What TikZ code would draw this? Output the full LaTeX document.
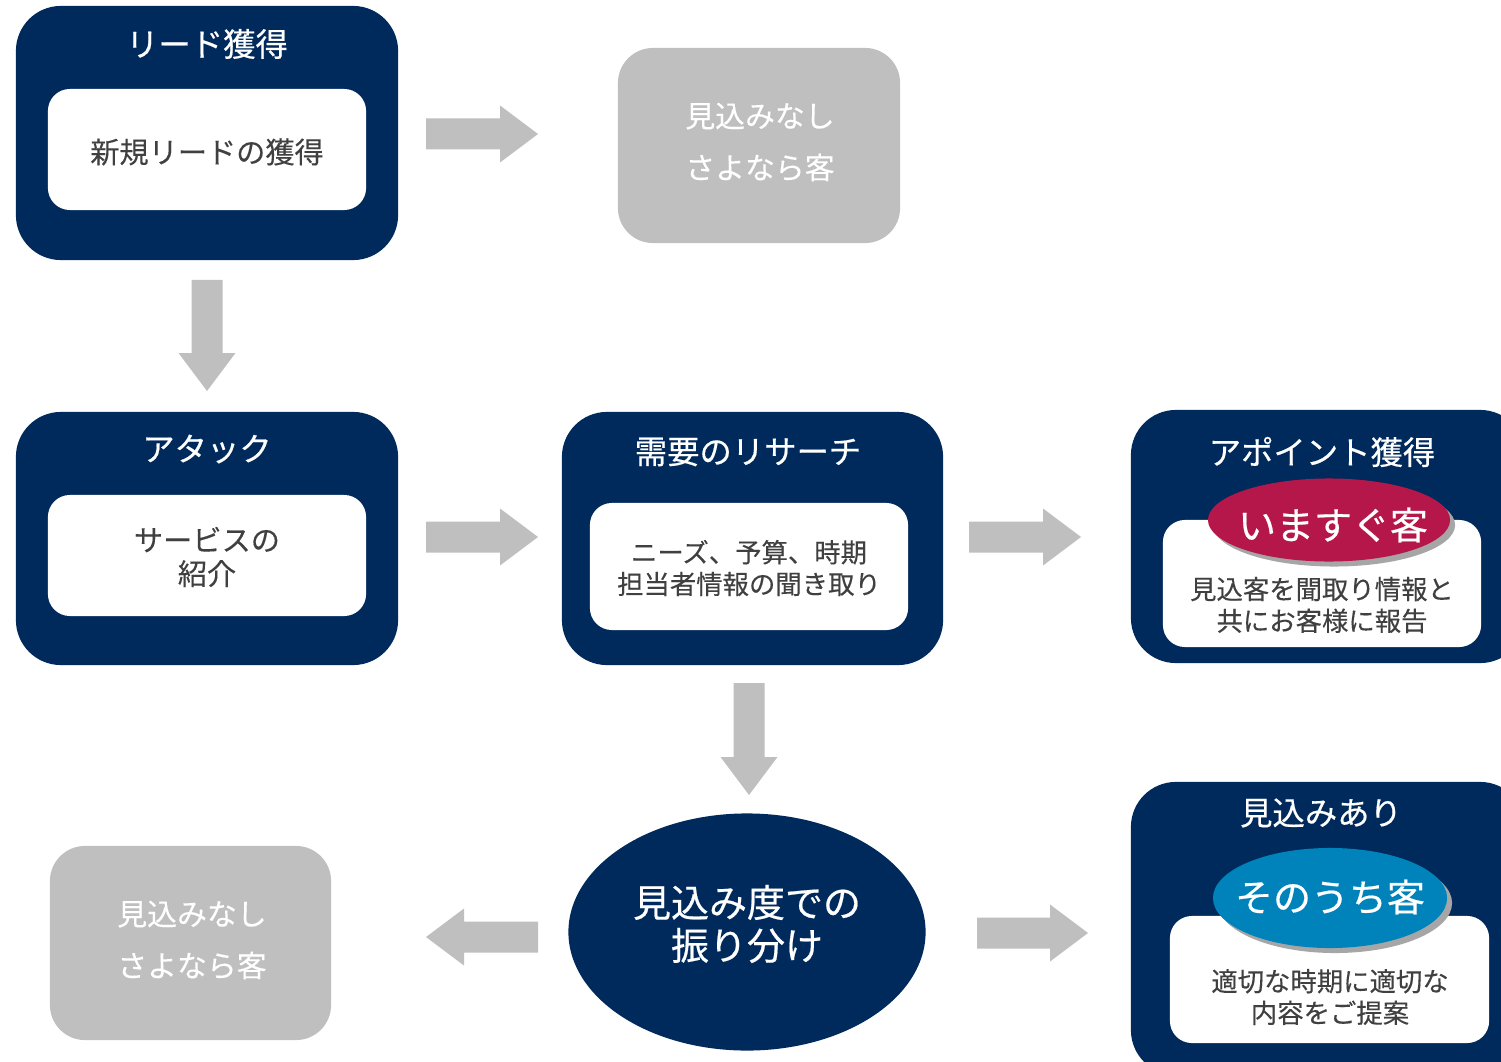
\documentclass[tikz,border=0pt]{standalone}
\usepackage{fontspec}
\setmainfont{Noto Sans CJK JP}
\newfontfamily\medfont[FakeBold=0.5]{Noto Sans CJK JP}
\newfontfamily\lightmed[FakeBold=0.2]{Noto Sans CJK JP}
\usetikzlibrary{shapes.geometric}
\definecolor{navy}{HTML}{002A5C}
\definecolor{arrowgray}{HTML}{BFBFBF}
\definecolor{badgered}{HTML}{B5174A}
\definecolor{badgeblue}{HTML}{0082BA}
\definecolor{bodytext}{HTML}{404040}
\definecolor{shadowgray}{HTML}{A6A6A6}
\newcommand\blockarrow[3]{\fill[arrowgray,shift={(#1)},rotate=#2] (0,-15.5) -- ({#3-38},-15.5) -- ({#3-38},-28.5) -- (#3,0) -- ({#3-38},28.5) -- ({#3-38},15.5) -- (0,15.5) -- cycle;}
\begin{document}
\begin{tikzpicture}[x=0.01cm,y=-0.01cm,
  navybox/.style={rectangle,fill=navy,rounded corners=0.45cm,inner sep=0pt},
  whitebox/.style={rectangle,fill=white,rounded corners=0.22cm,inner sep=0pt},
  graybox/.style={rectangle,fill=arrowgray,rounded corners=0.35cm,inner sep=0pt},
  titletext/.style={text=white,inner sep=0pt,font=\medfont\fontsize{9.2}{11}\selectfont},
  bodylg/.style={text=bodytext,inner sep=0pt,align=center,font=\lightmed\fontsize{8.3}{9.6}\selectfont},
  bodysm/.style={text=bodytext,inner sep=0pt,align=center,font=\lightmed\fontsize{7.5}{9}\selectfont},
  graytext/.style={text=white,inner sep=0pt,align=center,font=\lightmed\fontsize{8.5}{14.7}\selectfont},
  badge/.style={ellipse,inner sep=0pt,text=white,font=\medfont\fontsize{10.8}{12}\selectfont},
  badgeshadow/.style={ellipse,inner sep=0pt,fill=shadowgray}]
\useasboundingbox (0,0) rectangle (1501,1061);
\clip (0,0) rectangle (1501,1061);
% Lead
\node[navybox,minimum width=3.82cm,minimum height=2.54cm] (lead) at (207,133) {};
\node[titletext] (leadT) at (207,44) {リード獲得};
\node[whitebox,minimum width=3.18cm,minimum height=1.21cm] (leadI) at (207,149.5) {};
\node[bodylg] (leadX) at (207,152) {新規リードの獲得};
% Gray 1
\node[graybox,minimum width=2.82cm,minimum height=1.95cm] (gray1) at (759,145.5) {};
\node[graytext] (gray1X) at (760,142) {見込みなし\\さよなら客};
% Attack
\node[navybox,minimum width=3.82cm,minimum height=2.53cm] (attack) at (207,538.5) {};
\node[titletext] (attackT) at (207,449) {アタック};
\node[whitebox,minimum width=3.18cm,minimum height=1.21cm] (attackI) at (207,555.5) {};
\node[bodylg] (attackX) at (207,557) {サービスの\\紹介};
% Research
\node[navybox,minimum width=3.81cm,minimum height=2.53cm] (research) at (752.5,538.5) {};
\node[titletext] (researchT) at (748,452) {需要のリサーチ};
\node[whitebox,minimum width=3.18cm,minimum height=1.27cm] (researchI) at (749,566.5) {};
\node[bodysm] (researchX) at (749,568) {ニーズ、予算、時期\\担当者情報の聞き取り};
% Appointment
\node[navybox,minimum width=3.94cm,minimum height=2.53cm] (apo) at (1328,536.5) {};
\node[titletext] (apoT) at (1322,452) {アポイント獲得};
\node[whitebox,minimum width=3.18cm,minimum height=1.27cm] (apoI) at (1322,583.5) {};
\node[badgeshadow,minimum width=2.42cm,minimum height=0.83cm] (apoS) at (1334,525) {};
\node[badge,fill=badgered,minimum width=2.42cm,minimum height=0.83cm] (apoB) at (1329,520) {};
\node[badge] (apoBX) at (1333,525) {いますぐ客};
\node[bodysm] (apoX) at (1322,605) {見込客を聞取り情報と\\共にお客様に報告};
% Prospect
\node[navybox,minimum width=3.94cm,minimum height=2.93cm] (pros) at (1328,928.5) {};
\node[titletext] (prosT) at (1321,813) {見込みあり};
\node[whitebox,minimum width=3.19cm,minimum height=1.27cm] (prosI) at (1329.5,979.5) {};
\node[badgeshadow,minimum width=2.34cm,minimum height=1.00cm] (prosS) at (1335,903) {};
\node[badge,fill=badgeblue,minimum width=2.34cm,minimum height=1.00cm] (prosB) at (1330,898) {};
\node[badge] (prosBX) at (1330,897) {そのうち客};
\node[bodysm] (prosX) at (1330,997) {適切な時期に適切な\\内容をご提案};
% Sorting ellipse
\node[ellipse,fill=navy,inner sep=0pt,minimum width=3.57cm,minimum height=2.37cm] (sort) at (747,932) {};
\node[text=white,inner sep=0pt,align=center,font=\medfont\fontsize{10.8}{12.2}\selectfont] (sortX) at (747,924) {見込み度での\\振り分け};
% Gray 2
\node[graybox,minimum width=2.81cm,minimum height=1.94cm] (gray2) at (190.5,943) {};
\node[graytext] (gray2X) at (192,940) {見込みなし\\さよなら客};
% Arrows
\coordinate (a1) at (426,134);
\coordinate (a2) at (207,280);
\coordinate (a3) at (426,537);
\coordinate (a4) at (969,537);
\coordinate (a5) at (749,683);
\coordinate (a6) at (538,937);
\coordinate (a7) at (977,933);
\blockarrow{a1}{0}{112}
\blockarrow{a2}{-90}{111}
\blockarrow{a3}{0}{112}
\blockarrow{a4}{0}{112}
\blockarrow{a5}{-90}{112}
\blockarrow{a6}{180}{112}
\blockarrow{a7}{0}{111}
\end{tikzpicture}
\end{document}
